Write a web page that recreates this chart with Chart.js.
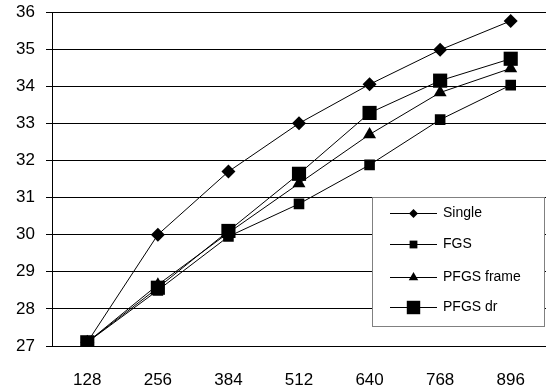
<!DOCTYPE html>
<html>
<head>
<meta charset="utf-8">
<script src="https://cdn.jsdelivr.net/npm/chart.js@4/dist/chart.umd.min.js"></script>
<style>
  html, body { margin: 0; padding: 0; background: #fff; }
  #wrap { width: 546px; height: 392px; }
</style>
</head>
<body>
<div id="wrap"><canvas id="chart" width="546" height="392"></canvas></div>
<script>
const categories = ['128', '256', '384', '512', '640', '768', '896'];
const single = [27.1, 30.0, 31.7, 33.0, 34.05, 34.98, 35.76];
const fgs = [27.1, 28.5, 29.95, 30.83, 31.88, 33.1, 34.03];
const pfgsFrame = [27.1, 28.65, 30.05, 31.38, 32.7, 33.83, 34.48];
const pfgsDr = [27.1, 28.57, 30.1, 31.64, 33.28, 34.15, 34.74];
const seriesNames = ['Single', 'FGS', 'PFGS frame', 'PFGS dr'];

const FONT = "'Liberation Sans', Arial, sans-serif";

// marker sizes for the legend (smaller than on the lines, like the original)
const legendRadius = [4.5, 5.5, 5.5, 9.5];

function drawMarker(ctx, style, x, y, r) {
  ctx.beginPath();
  if (style === 'rectRot') {
    ctx.moveTo(x - r, y);
    ctx.lineTo(x, y - r);
    ctx.lineTo(x + r, y);
    ctx.lineTo(x, y + r);
  } else if (style === 'rect') {
    const s = r * Math.SQRT1_2;
    ctx.rect(x - s, y - s, 2 * s, 2 * s);
  } else if (style === 'triangle') {
    ctx.moveTo(x, y - r);
    ctx.lineTo(x + r * 0.866, y + r * 0.5);
    ctx.lineTo(x - r * 0.866, y + r * 0.5);
  }
  ctx.closePath();
  ctx.fill();
}

const boxLegend = {
  id: 'boxLegend',
  afterDraw(chart) {
    const ctx = chart.ctx;
    const x0 = 372.5, y0 = 197.5, w = 172, h = 129;
    ctx.save();
    ctx.fillStyle = '#fff';
    ctx.fillRect(x0, y0, w, h);
    ctx.strokeStyle = '#808080';
    ctx.lineWidth = 1;
    ctx.strokeRect(x0, y0, w, h);
    const rows = [213, 244, 277, 307];
    chart.data.datasets.forEach((ds, i) => {
      const y = rows[i] + 0.5;
      ctx.strokeStyle = '#000';
      ctx.beginPath();
      ctx.moveTo(390, y);
      ctx.lineTo(437, y);
      ctx.stroke();
      ctx.fillStyle = '#000';
      drawMarker(ctx, ds.pointStyle, 413.5, y, legendRadius[i]);
      ctx.font = '14px ' + FONT;
      ctx.textBaseline = 'middle';
      ctx.fillText(ds.label, 443, y);
    });
    ctx.restore();
  }
};

function makeSet(label, data, style, radius) {
  return {
    label: label,
    data: data,
    borderColor: '#000',
    backgroundColor: '#000',
    borderWidth: 1,
    pointStyle: style,
    pointRadius: radius,
    pointBorderWidth: 0,
    pointBackgroundColor: '#000',
    tension: 0
  };
}

new Chart(document.getElementById('chart'), {
  type: 'line',
  data: {
    labels: categories,
    datasets: [
      makeSet(seriesNames[0], single, 'rectRot', 7),
      makeSet(seriesNames[1], fgs, 'rect', 7.5),
      makeSet(seriesNames[2], pfgsFrame, 'triangle', 7.5),
      makeSet(seriesNames[3], pfgsDr, 'rect', 10)
    ]
  },
  options: {
    responsive: false,
    animation: false,
    devicePixelRatio: 1,
    layout: { autoPadding: false, padding: { top: 12, right: 0, left: 0, bottom: 0 } },
    plugins: {
      legend: { display: false },
      tooltip: { enabled: false }
    },
    scales: {
      x: {
        offset: true,
        grid: { display: false },
        border: { color: '#000', width: 1 },
        ticks: { color: '#000', font: { family: FONT, size: 17 }, padding: 16, maxRotation: 0 },
        afterFit(scale) {
          scale.height = 46;
          scale.paddingLeft = 0;
          scale.paddingRight = 0;
        }
      },
      y: {
        min: 27,
        max: 36,
        ticks: { stepSize: 1, color: '#000', font: { family: FONT, size: 17 }, padding: 11 },
        grid: { color: '#000', lineWidth: 1, tickLength: 6 },
        border: { color: '#000', width: 1 },
        afterFit(scale) {
          scale.width = 52;
          scale.paddingTop = 0;
          scale.paddingBottom = 0;
        }
      }
    }
  },
  plugins: [boxLegend]
});
</script>
</body>
</html>
